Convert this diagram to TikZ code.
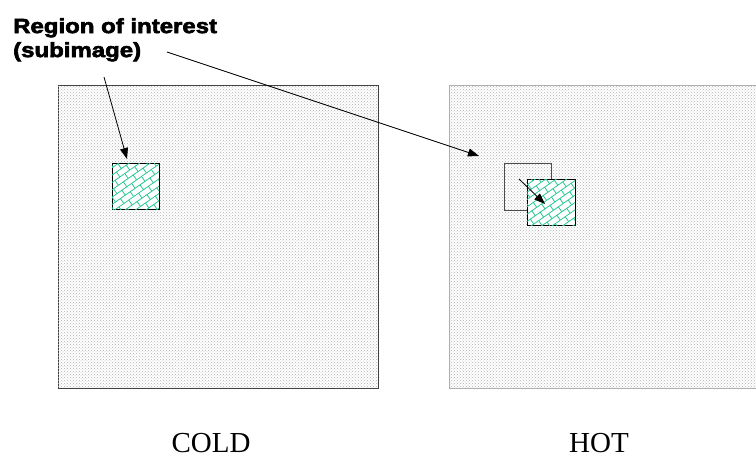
\documentclass[tikz,border=0pt]{standalone}
\usepackage{fontspec}
\setmainfont{Liberation Serif}
\newfontfamily\roifont[FakeStretch=1.17,BoldFeatures={FakeBold=3}]{Liberation Sans}
\usetikzlibrary{patterns,patterns.meta,arrows.meta}
\definecolor{roiteal}{RGB}{40,200,150}
\definecolor{bigborder}{RGB}{60,60,60}
\definecolor{hotborder}{RGB}{175,175,175}
\pgfdeclarepattern{
  name=diagbricks,
  type=uncolored,
  bottom left={\pgfpoint{-.5pt}{-.5pt}},
  top right={\pgfpoint{12.5pt}{12.5pt}},
  tile size={\pgfpoint{12pt}{12pt}},
  tile transformation={\pgftransformrotate{35}},
  code={
    \pgfsetlinewidth{0.8pt}
    \pgfpathmoveto{\pgfpoint{0pt}{0pt}}\pgfpathlineto{\pgfpoint{12pt}{0pt}}
    \pgfpathmoveto{\pgfpoint{0pt}{6pt}}\pgfpathlineto{\pgfpoint{12pt}{6pt}}
    \pgfpathmoveto{\pgfpoint{0pt}{0pt}}\pgfpathlineto{\pgfpoint{0pt}{6pt}}
    \pgfpathmoveto{\pgfpoint{6pt}{6pt}}\pgfpathlineto{\pgfpoint{6pt}{12pt}}
    \pgfusepath{stroke}
  }
}
\tikzset{
  image/.style={rectangle, inner sep=0pt, fill=white, postaction={pattern=crosshatch dots, pattern color=gray!60}},
  roi/.style={rectangle, inner sep=0pt, draw=black, line width=0.8pt, fill=white,
    postaction={pattern=diagbricks, pattern color=roiteal},
    minimum width=47pt, minimum height=46pt},
  ghost/.style={rectangle, inner sep=0pt, draw=black!70, line width=0.8pt,
    minimum width=47pt, minimum height=47pt},
  pointer/.style={draw=black, line width=0.8pt, -{Triangle[length=11pt,width=8pt]}},
  caption/.style={font=\fontsize{29}{34}\selectfont, inner sep=0pt, anchor=base},
}
\begin{document}
\begin{tikzpicture}[x=1pt,y=-1pt]
\useasboundingbox (0,0) rectangle (756,466);
% big images
\node[image, draw=bigborder, line width=0.8pt, minimum width=320pt, minimum height=303pt] (cold) at (218,236.5) {};
\node[image, draw=hotborder, line width=0.8pt, minimum width=314pt, minimum height=303pt, anchor=west] (hot) at (449,236.5) {};
% regions
\node[roi] (roic) at (135.5,186) {};
\node[ghost] (ghost) at (527.5,186.5) {};
\node[roi, minimum width=48pt] (roih) at (551,202) {};
% label
\node[anchor=north west, inner sep=0pt, align=left, font=\roifont\bfseries\fontsize{20.5}{24}\selectfont] (label) at (13,18)
  {Region of interest\\(subimage)};
\coordinate (s1) at (104,77);
\coordinate (e1) at (127,159);
\coordinate (s2) at (167,52);
\coordinate (e2) at (479,156);
\coordinate (s3) at (519,179);
\coordinate (e3) at (545,204);
\draw[pointer] (s1) -- (e1);
\draw[pointer] (s2) -- (e2);
\draw[pointer] (s3) -- (e3);
% captions
\node[caption] (coldlbl) at (211,452) {COLD};
\node[caption] (hotlbl) at (599,452) {HOT};
\end{tikzpicture}
\end{document}
